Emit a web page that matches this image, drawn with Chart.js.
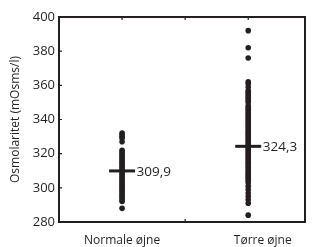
<!DOCTYPE html>
<html>
<head>
<meta charset="utf-8">
<script src="https://cdn.jsdelivr.net/npm/chart.js@4/dist/chart.umd.min.js"></script>
<style>
html,body{margin:0;padding:0;background:#fff;}
#wrap{width:321px;height:247px;position:relative;}
</style>
</head>
<body>
<div id="wrap"><canvas id="c" width="321" height="247"></canvas></div>
<script>
const categories = ['Normale øjne', 'Tørre øjne'];
const normalValues = [332, 331, 330, 329, 327, 322, 321, 320, 319, 318, 317, 316, 315, 314, 313, 312, 311, 310, 309, 308, 307, 306, 305, 304, 303, 302, 301, 300, 299, 298, 297, 296, 295, 294, 293, 292, 288];
const dryValues = [392, 382, 376, 362, 361, 359, 357, 356, 355, 354, 353, 352, 351, 350, 348, 347, 346, 345, 344, 343, 342, 341, 340, 339, 338, 337, 336, 335, 334, 333, 332, 331, 330, 329, 328, 327, 326, 325, 324, 323, 322, 321, 320, 319, 318, 317, 316, 315, 314, 313, 312, 311, 310, 309, 308, 307, 306, 305, 304, 303, 301, 299, 297, 295, 293, 291, 284];
const meanValues = [309.9, 324.3];
const meanLabels = ['309,9', '324,3'];
const yTickValues = [280, 300, 320, 340, 360, 380, 400];
const yTitle = 'Osmolaritet (mOsms/l)';

const INK = '#231f20';
const FONT = "'Open Sans', sans-serif";

// group i is plotted at x = 2*i + 1 (1 and 3)
const groupX = i => 2 * i + 1;
const groups = [normalValues, dryValues];
const pointDatasets = groups.map((vals, i) => ({
  label: categories[i],
  data: vals.map(v => ({x: groupX(i), y: v})),
  backgroundColor: INK,
  borderColor: INK,
  borderWidth: 0,
  pointRadius: 2.8,
  pointHoverRadius: 2.8,
  clip: false
}));
const meanDataset = {
  label: 'mean',
  data: meanValues.map((v, i) => ({x: groupX(i), y: v})),
  pointStyle: 'line',
  pointRadius: 13,
  pointHoverRadius: 13,
  borderColor: INK,
  borderWidth: 3,
  clip: false
};

const framePlugin = {
  id: 'frame',
  afterDatasetsDraw(chart) {
    const {ctx, chartArea: a, scales} = chart;
    ctx.save();
    ctx.strokeStyle = INK;
    ctx.lineWidth = 2;
    ctx.strokeRect(a.left, a.top, a.right - a.left, a.bottom - a.top);
    ctx.lineWidth = 1.2;
    ctx.beginPath();
    yTickValues.forEach(v => {
      const y = scales.y.getPixelForValue(v);
      ctx.moveTo(a.left, y); ctx.lineTo(a.left + 3, y);
    });
    [1, 2, 3].forEach(v => {
      const x = scales.x.getPixelForValue(v);
      ctx.moveTo(x, a.top); ctx.lineTo(x, a.top + 3);
    });
    const xm = scales.x.getPixelForValue(2);
    ctx.moveTo(xm, a.bottom); ctx.lineTo(xm, a.bottom - 3);
    ctx.stroke();
    const meta = chart.getDatasetMeta(2);
    ctx.fillStyle = INK;
    ctx.font = "13.5px " + FONT;
    ctx.textBaseline = 'middle';
    ctx.textAlign = 'left';
    meta.data.forEach((pt, i) => {
      ctx.fillText(meanLabels[i], pt.x + 14.5, pt.y + 1);
    });
    ctx.restore();
  }
};

new Chart(document.getElementById('c'), {
  type: 'scatter',
  data: {datasets: [...pointDatasets, meanDataset]},
  options: {
    responsive: false,
    animation: false,
    events: [],
    layout: {padding: {left: 0, right: 6, top: 17, bottom: 0}},
    plugins: {legend: {display: false}, tooltip: {enabled: false}},
    scales: {
      x: {
        type: 'linear',
        min: 0,
        max: 3.9,
        border: {display: false},
        grid: {display: false, drawTicks: false},
        afterBuildTicks: s => { s.ticks = [{value: 1}, {value: 3.23}]; },
        afterFit: s => { s.height = 25; },
        ticks: {
          color: INK,
          font: {family: FONT, size: 12},
          padding: 11,
          maxRotation: 0,
          autoSkip: false,
          callback: (v, i) => categories[i]
        }
      },
      y: {
        min: 280,
        max: 400,
        border: {display: false},
        grid: {display: false, drawTicks: false},
        afterBuildTicks: s => { s.ticks = yTickValues.map(v => ({value: v})); },
        afterFit: s => { s.width = 59; },
        ticks: {
          color: INK,
          font: {family: FONT, size: 13},
          padding: 4
        },
        title: {
          display: true,
          text: yTitle,
          color: INK,
          font: {family: FONT, size: 12},
          padding: {top: 8, bottom: 0}
        }
      }
    }
  },
  plugins: [framePlugin]
});
</script>
</body>
</html>
